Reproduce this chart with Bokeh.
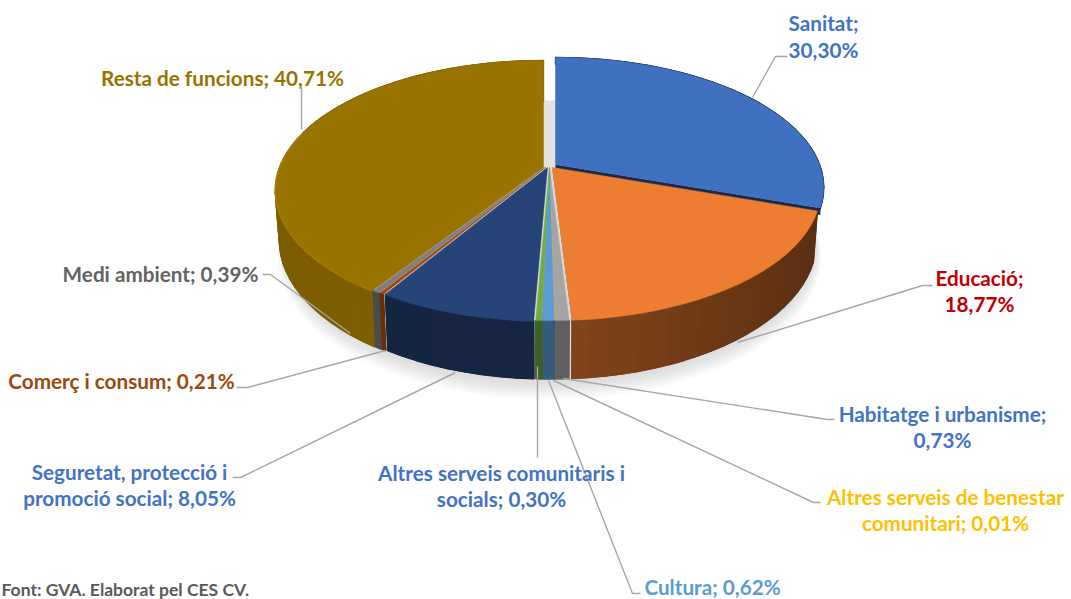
import math
from bokeh.plotting import figure
from bokeh.models import Range1d
from bokeh.core.properties import value
from bokeh.embed import file_html
from bokeh.resources import INLINE

categories = ["Sanitat", "Educació", "Habitatge i urbanisme", "Altres serveis de benestar comunitari",
              "Cultura", "Altres serveis comunitaris i socials", "Seguretat, protecció i promoció social",
              "Comerç i consum", "Medi ambient", "Resta de funcions"]
values = [30.30, 18.77, 0.73, 0.01, 0.62, 0.30, 8.05, 0.21, 0.39, 40.71]
slice_colors = ["#4070C0", "#ED7D31", "#A5A5A5", "#FFC000", "#5B9BD5", "#70AD47", "#264478", "#9E480E", "#7F7F7F", "#997300"]
side_gain = [0.8, 1.0, 1.05, 1.0, 1.05, 1.0, 1.0, 1.2, 1.1, 1.5]
side_depth = [8, 48, 48, 48, 48, 48, 48, 48, 48, 48]
explode = [(6, -3), (3, 0), (0, 0), (0, 0), (0, 0), (0, 0), (-2, 0), (-4, 0), (-5, 0), (-6, 0)]
wall_depth = [7, 3, 0, 0, 0, 0, 0, 0, 0, 0]
paint_order = [9, 0, 1, 8, 7, 6, 2, 3, 4, 5]

labels = [
    (["Sanitat;", "30,30%"], 823, 22.5, "#4472C4"),
    (["Educació;", "18,77%"], 979, 277, "#C00000"),
    (["Habitatge i urbanisme;", "0,73%"], 942, 413, "#4472C4"),
    (["Altres serveis de benestar", "comunitari; 0,01%"], 945, 496, "#FFC000"),
    (["Cultura; 0,62%"], 712, 586, "#5B9BD5"),
    (["Altres serveis comunitaris i", "socials; 0,30%"], 501, 472, "#4472C4"),
    (["Seguretat, protecció i", "promoció social; 8,05%"], 129, 471, "#4472C4"),
    (["Comerç i consum; 0,21%"], 121, 380, "#9E480E"),
    (["Medi ambient; 0,39%"], 160, 273, "#636363"),
    (["Resta de funcions; 40,71%"], 222, 77, "#997300"),
]
leaders = [
    ([752, 775, 787], [97, 56, 56]),
    ([737, 922, 932], [342, 285, 285]),
    ([563, 827, 834], [378, 419, 419]),
    ([553, 813, 820], [380, 502, 502]),
    ([548, 632, 640], [380, 593, 593]),
    ([537, 537], [366, 457]),
    ([455, 240, 232], [372, 477, 477]),
    ([385, 247, 236], [350, 387, 387]),
    ([350, 270, 262], [333, 274, 274]),
    ([301, 301], [129, 87]),
]
source_note = "Font: GVA. Elaborat pel CES CV."

CX, CY, A, B, K, DEPTH, BASE_SCALE = 549.0, 167.0, 264.0, 126.0, 0.177, 48.0, 0.985


def rim(theta, off=(0, 0)):
    u, v = math.sin(theta), math.cos(theta)
    w = 1 + K * v
    return CX + A * u / w + off[0], CY - B * v / w + off[1], w


def low(x, y, w, off=(0, 0), depth=DEPTH):
    return CX + off[0] + (x - CX - off[0]) * BASE_SCALE, y + depth / w


def mix(c, f):
    r, g, b = int(c[1:3], 16), int(c[3:5], 16), int(c[5:7], 16)
    return "#%02x%02x%02x" % tuple(min(255, int(x * f)) for x in (r, g, b))


p = figure(width=1071, height=599, x_range=Range1d(0, 1071), y_range=Range1d(599, 0),
           output_backend="svg", toolbar_location=None, min_border=0, outline_line_color=None)
p.xaxis.visible = False
p.yaxis.visible = False
p.grid.visible = False
p.background_fill_color = "white"

total = sum(values)
edges = [0.0]
for val in values:
    edges.append(edges[-1] + val / total * 2 * math.pi)

# soft ground shadow under the pie
samples = [2 * math.pi * i / 180 for i in range(181)]
for g in range(10, 0, -1):
    xs, ys = [], []
    for t in samples:
        x, y, w = rim(t)
        lx, ly = low(x, y, w, depth=DEPTH + g * 1.7)
        xs.append(CX + (lx - CX) * (1 + g * 0.0028))
        ys.append(ly)
    p.patch(xs, ys, fill_color="#9a9a9a", fill_alpha=0.045, line_color=None)

# shaded gap behind the exploded slices
p.quad(left=[543], right=[556], top=[100], bottom=[170], fill_color="#e2e2e2", line_color=None)

for i in paint_order:
    t0, t1 = edges[i], edges[i + 1]
    off, col = explode[i], slice_colors[i]
    n = max(2, int((t1 - t0) / math.radians(3)))
    ts = [t0 + (t1 - t0) * j / n for j in range(n + 1)]
    pts = [rim(t, off) for t in ts]
    lows = [low(*q, off, depth=side_depth[i]) for q in pts]
    # outer wall: one solid underlay, then shaded strips along the rim
    um0 = math.sin((t0 + t1) / 2)
    base = mix(col, side_gain[i] * (0.56 - 0.19 * max(um0, 0) + 0.02 * min(um0, 0)))
    p.patch([q[0] for q in pts] + [q[0] for q in lows[::-1]], [q[1] for q in pts] + [q[1] for q in lows[::-1]],
            fill_color=base, line_color=base, line_width=1)
    sx, sy, sc = [], [], []
    for j in range(n):
        a, b = pts[j], pts[j + 1]
        la, lb = lows[j], lows[j + 1]
        sx.append([a[0], b[0], lb[0], la[0]])
        sy.append([a[1], b[1], lb[1], la[1]])
        um = math.sin((ts[j] + ts[j + 1]) / 2)
        sc.append(mix(col, side_gain[i] * (0.56 - 0.19 * max(um, 0) + 0.02 * min(um, 0))))
    p.patches(sx, sy, fill_color=sc, line_color=sc, line_width=1.4)
    # radial wall on the trailing edge
    if wall_depth[i]:
        ax, ay = CX + off[0], CY + off[1]
        ex, ey, _ = pts[-1]
        d = wall_depth[i]
        p.patch([ax, ex, ex, ax], [ay, ey, ey + d, ay + d], fill_color=mix(col, 0.38 if i == 0 else 0.42), line_color=None)
    # top face
    tx = [CX + off[0]] + [q[0] for q in pts]
    ty = [CY + off[1]] + [q[1] for q in pts]
    p.patch(tx, ty, fill_color=col, line_color=col, line_width=0.5)
    # lit rim on the front-left slices
    if i in (6, 9):
        keep = [q for q, t in zip(pts, ts) if t < math.radians(288)]
        p.line([q[0] for q in keep], [q[1] + 0.5 for q in keep], line_color=mix(col, 1.2), line_width=1.4, line_alpha=0.6)

for xs, ys in leaders:
    p.line(xs, ys, line_color="#a6a6a6", line_width=1.4)

for lines, x, y, color in labels:
    for k, line in enumerate(lines):
        p.text([x], [y + k * 26.5], text=[line], text_color=color, text_align="center", text_baseline="middle",
               text_font=value("Lato"), text_font_size="20.7px", text_font_style="bold")

p.text([1], [589], text=[source_note], text_color="#595959", text_align="left", text_baseline="middle",
       text_font=value("Lato"), text_font_size="17.5px", text_font_style="bold")

open("out.html", "w").write(file_html(p, INLINE))
